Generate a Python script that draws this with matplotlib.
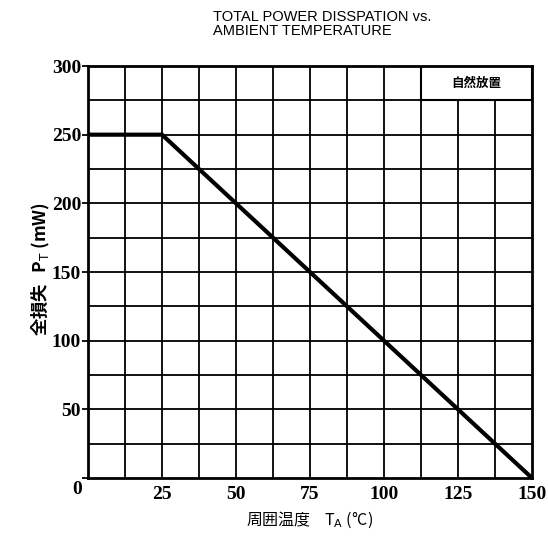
import matplotlib.pyplot as plt
from matplotlib.patches import Rectangle

# 数据
temp = [0, 25, 150]
power = [250, 250, 0]
x_ticks = [0, 25, 50, 75, 100, 125, 150]
y_ticks = [0, 50, 100, 150, 200, 250, 300]

plt.rcParams['font.family'] = ['Noto Sans CJK JP', 'DejaVu Sans']

fig = plt.figure(figsize=(5.48, 5.38), dpi=100)
ax = fig.add_axes([0.1606, 0.1115, 0.8102, 0.7658])

# 网格 12.5 / 25
for gx in [12.5 * i for i in range(1, 12)]:
    ax.axvline(gx, color='black', lw=1.3, zorder=1)
for gy in [25 * i for i in range(1, 12)]:
    ax.axhline(gy, color='black', lw=1.3, zorder=1)

ax.plot(temp, power, color='black', lw=3, zorder=3, solid_capstyle='butt')

# 自然放置 标签框
ax.add_patch(Rectangle((112.5, 275), 37.5, 25, facecolor='white',
                       edgecolor='black', lw=1.5, zorder=2))
ax.text(131.25, 287.5, '自然放置', ha='center', va='center', fontsize=9,
        fontweight='bold', zorder=4)

ax.set_xlim(0, 150)
ax.set_ylim(0, 300)
ax.set_xticks(x_ticks)
ax.set_yticks(y_ticks)
# 原点的 0 只写一次，放在左下角
ax.set_xticklabels(['' if v == 0 else str(v) for v in x_ticks],
                   family='Liberation Serif', fontweight='bold', fontsize=14)
ax.set_yticklabels(['' if v == 0 else str(v) for v in y_ticks],
                   family='Liberation Serif', fontweight='bold', fontsize=14)
ax.annotate('0', xy=(0, 0), xycoords='axes fraction', xytext=(-8, -8),
            textcoords='offset points', ha='center', va='center',
            family='Liberation Serif', fontweight='bold', fontsize=14)
ax.tick_params(axis='x', length=0, pad=6)
ax.tick_params(axis='y', length=4, width=1.3, pad=1)
for s in ax.spines.values():
    s.set_linewidth(2)

fig.text(0.389, 0.982, 'TOTAL POWER DISSPATION vs.\nAMBIENT TEMPERATURE',
         ha='left', va='top', family='Liberation Sans', fontsize=10.5,
         linespacing=1.0)

fig.text(0.565, 0.033, '周囲温度    T$_\\mathrm{A}$ (°C)', ha='center',
         va='center', fontsize=11.5)
fig.text(0.075, 0.5, '全損失   P$_\\mathrm{T}$ (mW)', ha='center',
         va='center', rotation=90, fontsize=12.5, fontweight='bold')

plt.savefig('out.png', dpi=100)
